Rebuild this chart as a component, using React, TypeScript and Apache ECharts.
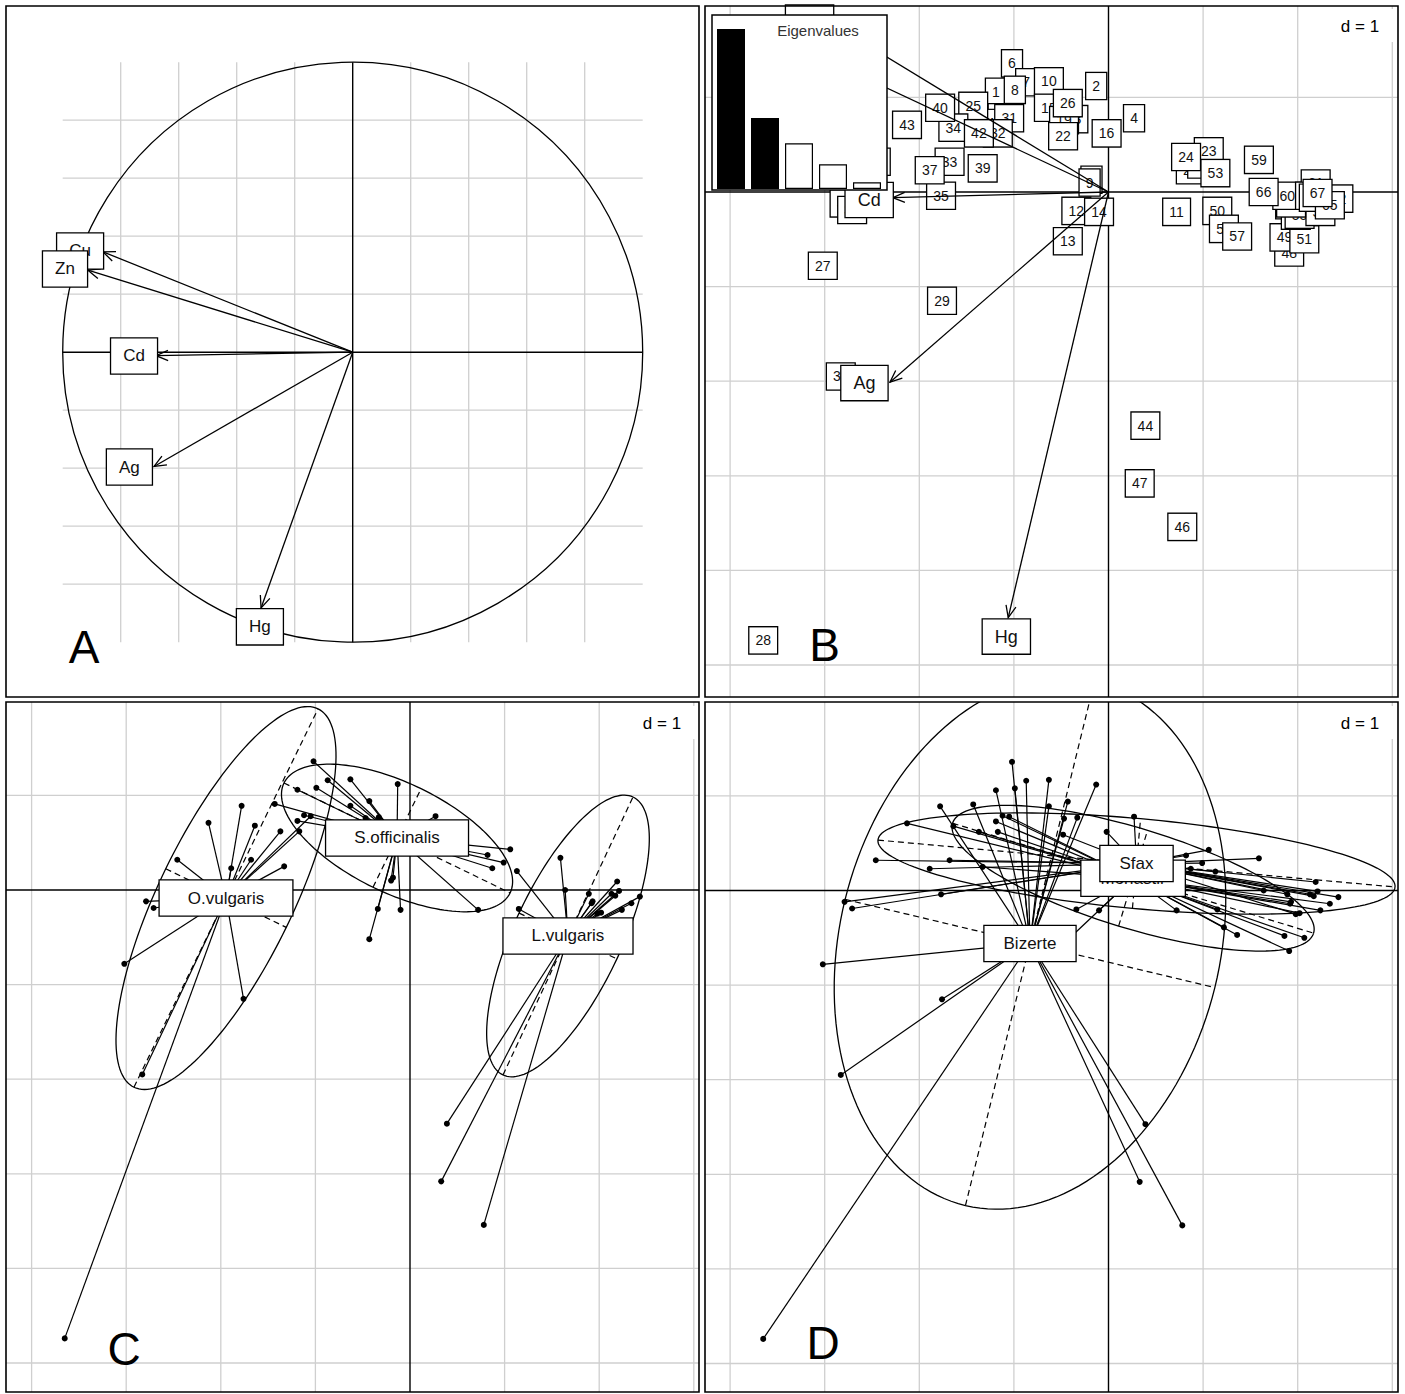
import React, { useEffect, useRef } from "react";
import * as echarts from "echarts";

const FONT = "'Liberation Sans', Arial, Helvetica, sans-serif";

// ---------------- data ----------------
const variableNames = ["Cu", "Zn", "Cd", "Ag", "Hg"];
// Panel A (correlation circle): arrow tips and label centres
const corArrowX = [-0.861, -0.913, -0.678, -0.685, -0.316];
const corArrowY = [0.346, 0.283, -0.012, -0.394, -0.882];
const corLabelX = [-0.94, -0.992, -0.754, -0.77, -0.32];
const corLabelY = [0.349, 0.287, -0.013, -0.396, -0.947];
const circleRadius = 1;
const circleTicks = [-0.8, -0.6, -0.4, -0.2, 0.2, 0.4, 0.6, 0.8];

// Panel B: variable arrows and labels
const varArrowX = [-2.89, -3.07, -2.28, -2.31, -1.06];
const varArrowY = [1.76, 1.44, -0.06, -2.01, -4.5];
const varLabelX = [-3.16, -3.36, -2.53, -2.58, -1.08];
const varLabelY = [1.79, 1.47, -0.085, -2.02, -4.7];
const eigenRanks = ["1", "2", "3", "4", "5"];
const eigenvalues = [2.59, 1.15, 0.74, 0.4, 0.11];
const eigenKept = 2;

const gridTicksX = [-4, -3, -2, -1, 1, 2, 3];
const gridTicksY = [1, -1, -2, -3, -4, -5];

// Samples (row scores)
const sampleIds = [
  "1", "2", "3", "4", "5", "6", "7", "8", "9", "10", "11", "12", "13", "14", "15", "16", "17", "18", "19", "20",
  "21", "22", "23", "24", "25", "26", "27", "28", "29", "30", "31", "32", "33", "34", "35", "36", "37", "38", "39", "40",
  "41", "42", "43", "44", "45", "46", "47", "48", "49", "50", "51", "52", "53", "54", "55", "56", "57", "58", "59", "60",
  "61", "62", "63", "64", "65", "66", "67",
];
const sampleX = [
  -1.19, -0.13, -0.33, 0.27, -0.18, -1.02, -0.87, -0.99, -0.2, -0.63, 0.72, -0.34, -0.43, -0.1, -0.63, -0.02, -1.12,
  -1.19, -0.47, 0.87, 0.99, -0.48, 1.06, 0.82, -1.43, -0.43,
  -3.02, -3.65, -1.76, -2.83, -1.05, -1.17, -1.68, -1.64, -1.77, -2.79, -1.89, -2.71, -1.33, -1.78, -2.46, -1.37, -2.13,
  0.39, 1.92, 0.78, 0.33, 1.91, 1.86, 1.15, 2.07, 1.22, 1.13, 1.98, 2.02, 2.24, 1.36, 1.93, 1.59, 1.89, 2.19, 2.43, 2.13,
  2.17, 2.34, 1.64, 2.21,
];
const sampleY = [
  1.06, 1.12, 0.77, 0.78, 0.13, 1.36, 1.16, 1.08, 0.1, 1.17, -0.21, -0.2, -0.52, -0.21, 0.89, 0.62, 0.79, 0.73, 0.76,
  0.23, 0.29, 0.59, 0.43, 0.37, 0.91, 0.94,
  -0.78, -4.74, -1.15, -1.95, 0.78, 0.62, 0.32, 0.68, -0.04, -0.12, 0.23, -0.19, 0.25, 0.89, 0.32, 0.62, 0.71,
  -2.47, -0.14, -3.54, -3.08, -0.64, -0.48, -0.2, -0.5, -0.39, 0.2, -0.25, -0.24, -0.21, -0.47, -0.12, 0.34, -0.04, 0.09,
  -0.07, -0.04, -0.06, -0.14, 0.0, -0.01,
];
const sampleSpecies = ("SSSSSSSSSSSSSSSSSSSSSSSSSS" + "OOOOOOOOOOOOOOOOO" + "LLLLLLLLLLLLLLLLLLLLLLLL").split("");
const sampleSite = ("BBBSMBBBMBMMMMBSMMBSSSSSBB" + "BBBBMMSMSSSSMBSMM" + "BMBBMMMMMSSMMMMSSSSSSMSS").split("");

// Panel C: species classes
const speciesCodes = ["O", "S", "L"];
const speciesNames = ["O.vulgaris", "S.officinalis", "L.vulgaris"];
const speciesCenterX = [-1.945, -0.137, 1.67];
const speciesCenterY = [-0.085, 0.55, -0.486];
const speciesAxisA = [[0.973, 2.0], [1.195, -0.581], [0.687, 1.469]];
const speciesAxisB = [[0.637, -0.31], [0.254, 0.521], [0.517, -0.242]];

// Panel D: site classes
const siteCodes = ["B", "M", "S"];
const siteNames = ["Bizerte", "Monastir", "Sfax"];
const siteCenterX = [-0.83, 0.26, 0.296];
const siteCenterY = [-0.56, 0.13, 0.285];
const siteAxisA = [[0.682, 2.77], [1.908, -0.581], [2.733, -0.248]];
const siteAxisB = [[1.954, -0.466], [0.153, 0.506], [0.043, 0.474]];

// ---------------- layout ----------------
const UNIT = 94.6;
const FRAMES: Record<string, number[]> = {
  A: [6, 6, 699, 697],
  B: [705, 6, 1398, 697],
  C: [6, 702, 699, 1392],
  D: [705, 702, 1398, 1392],
};
const ORIGINS: Record<string, number[]> = {
  B: [1108.5, 192],
  C: [410, 890],
  D: [1108.5, 890.5],
};
const CIRCLE = { cx: 352.7, cy: 352.2, r: 290 };

function gridItem(params: any, api: any) {
  const cs = params.coordSys;
  const v = api.value(0);
  const o = api.value(1);
  const isAxis = api.value(2) === 1;
  let shape;
  if (o === 0) {
    const p = api.coord([v, 0]);
    shape = { x1: p[0], y1: cs.y, x2: p[0], y2: cs.y + cs.height };
  } else {
    const p = api.coord([0, v]);
    shape = { x1: cs.x, y1: p[1], x2: cs.x + cs.width, y2: p[1] };
  }
  return {
    type: "line",
    shape,
    style: { stroke: isAxis ? "#000" : "#cfcfcf", lineWidth: isAxis ? 1.4 : 1.3 },
  };
}

function gridSeries(gi: number, tx: number[], ty: number[]) {
  return {
    type: "custom",
    xAxisIndex: gi,
    yAxisIndex: gi,
    z: 1,
    silent: true,
    renderItem: gridItem,
    data: [...tx.map((v) => [v, 0, 0]), ...ty.map((v) => [v, 1, 0]), [0, 0, 1], [0, 1, 1]],
  };
}

function arrowItem(params: any, api: any) {
  const p0 = api.coord([api.value(0), api.value(1)]);
  const p1 = api.coord([api.value(2), api.value(3)]);
  const ang = Math.atan2(p1[1] - p0[1], p1[0] - p0[0]);
  const L = 13;
  const da = 0.4;
  const h1 = [p1[0] - L * Math.cos(ang - da), p1[1] - L * Math.sin(ang - da)];
  const h2 = [p1[0] - L * Math.cos(ang + da), p1[1] - L * Math.sin(ang + da)];
  return {
    type: "group",
    children: [
      { type: "line", shape: { x1: p0[0], y1: p0[1], x2: p1[0], y2: p1[1] }, style: { stroke: "#000", lineWidth: 1.3 } },
      { type: "polyline", shape: { points: [h1, p1, h2] }, style: { stroke: "#000", fill: "none", lineWidth: 1.3 } },
    ],
  };
}

function ellipseItem(params: any, api: any) {
  const cx = api.value(0), cy = api.value(1);
  const ax = api.value(2), ay = api.value(3);
  const bx = api.value(4), by = api.value(5);
  const pts: number[][] = [];
  const n = 160;
  for (let i = 0; i <= n; i++) {
    const t = (i / n) * Math.PI * 2;
    pts.push(api.coord([cx + Math.cos(t) * ax + Math.sin(t) * bx, cy + Math.cos(t) * ay + Math.sin(t) * by]));
  }
  const a0 = api.coord([cx - ax, cy - ay]);
  const a1 = api.coord([cx + ax, cy + ay]);
  const b0 = api.coord([cx - bx, cy - by]);
  const b1 = api.coord([cx + bx, cy + by]);
  const dash = { stroke: "#000", lineWidth: 1.2, lineDash: [6, 4] };
  return {
    type: "group",
    children: [
      { type: "polyline", shape: { points: pts }, style: { fill: "none", stroke: "#000", lineWidth: 1.3 } },
      { type: "line", shape: { x1: a0[0], y1: a0[1], x2: a1[0], y2: a1[1] }, style: dash },
      { type: "line", shape: { x1: b0[0], y1: b0[1], x2: b1[0], y2: b1[1] }, style: dash },
    ],
  };
}

function segmentItem(params: any, api: any) {
  const p0 = api.coord([api.value(0), api.value(1)]);
  const p1 = api.coord([api.value(2), api.value(3)]);
  return { type: "line", shape: { x1: p0[0], y1: p0[1], x2: p1[0], y2: p1[1] }, style: { stroke: "#000", lineWidth: 1.2 } };
}

function labelSeries(gi: number, names: string[], xs: number[], ys: number[], fontSize: number, padding: number[], z: number) {
  return {
    type: "scatter",
    xAxisIndex: gi,
    yAxisIndex: gi,
    z,
    silent: true,
    symbolSize: 0,
    clip: false,
    itemStyle: { color: "transparent", opacity: 1 },
    data: names.map((n, i) => ({ name: n, value: [xs[i], ys[i]] })),
    label: {
      show: true,
      position: "inside",
      formatter: "{b}",
      color: "#111",
      opacity: 1,
      fontFamily: FONT,
      fontSize,
      backgroundColor: "#fff",
      borderColor: "#000",
      borderWidth: 1.3,
      padding,
    },
  };
}

function classPanel(gi: number, codes: string[], names: string[], cxs: number[], cys: number[], A: number[][], B: number[][], membership: string[], pad: number[]) {
  const ellipses = codes.map((_, k) => [cxs[k], cys[k], A[k][0], A[k][1], B[k][0], B[k][1]]);
  const stars = sampleX.map((x, i) => {
    const k = codes.indexOf(membership[i]);
    return [cxs[k], cys[k], x, sampleY[i]];
  });
  return [
    { type: "custom", xAxisIndex: gi, yAxisIndex: gi, z: 2, silent: true, clip: true, renderItem: ellipseItem, data: ellipses },
    { type: "custom", xAxisIndex: gi, yAxisIndex: gi, z: 3, silent: true, clip: true, renderItem: segmentItem, data: stars },
    {
      type: "scatter",
      xAxisIndex: gi,
      yAxisIndex: gi,
      z: 4,
      silent: true,
      symbol: "circle",
      symbolSize: 6,
      itemStyle: { color: "#000", opacity: 1 },
      data: sampleX.map((x, i) => [x, sampleY[i]]),
    },
    labelSeries(gi, names, cxs, cys, 17, pad, 5),
  ];
}

function buildOption() {
  const grids: any[] = [];
  const xAxes: any[] = [];
  const yAxes: any[] = [];
  // grid 0 : correlation circle square [-1, 1]
  grids.push({ left: CIRCLE.cx - CIRCLE.r, top: CIRCLE.cy - CIRCLE.r, width: 2 * CIRCLE.r, height: 2 * CIRCLE.r, outerBoundsMode: "none" });
  xAxes.push({ gridIndex: 0, type: "value", min: -1, max: 1, show: false, splitLine: { show: false } });
  yAxes.push({ gridIndex: 0, type: "value", min: -1, max: 1, show: false, splitLine: { show: false } });
  // grids 1..3 : panels B, C, D
  ["B", "C", "D"].forEach((k, i) => {
    const [x0, y0, x1, y1] = FRAMES[k];
    const [ox, oy] = ORIGINS[k];
    grids.push({ left: x0, top: y0, width: x1 - x0, height: y1 - y0, outerBoundsMode: "none" });
    xAxes.push({ gridIndex: i + 1, type: "value", min: (x0 - ox) / UNIT, max: (x1 - ox) / UNIT, show: false, splitLine: { show: false } });
    yAxes.push({ gridIndex: i + 1, type: "value", min: (oy - y1) / UNIT, max: (oy - y0) / UNIT, show: false, splitLine: { show: false } });
  });
  // grid 4 : eigenvalue inset
  grids.push({ left: 714, top: 29, width: 170, height: 160, outerBoundsMode: "none" });
  xAxes.push({ gridIndex: 4, type: "category", data: eigenRanks, show: false });
  yAxes.push({ gridIndex: 4, type: "value", min: 0, max: "dataMax", show: false, splitLine: { show: false } });

  const series: any[] = [];

  // ---- Panel A
  series.push(gridSeries(0, circleTicks, circleTicks));
  series.push({
    type: "custom",
    xAxisIndex: 0,
    yAxisIndex: 0,
    z: 2,
    silent: true,
    renderItem: (params: any, api: any) => {
      const c = api.coord([api.value(0), api.value(1)]);
      const r = api.size([api.value(2), 0])[0];
      return { type: "circle", shape: { cx: c[0], cy: c[1], r }, style: { fill: "none", stroke: "#000", lineWidth: 1.3 } };
    },
    data: [[0, 0, circleRadius]],
  });
  series.push({
    type: "custom",
    xAxisIndex: 0,
    yAxisIndex: 0,
    z: 3,
    silent: true,
    renderItem: arrowItem,
    data: corArrowX.map((x, i) => [0, 0, x, corArrowY[i]]),
  });
  series.push(labelSeries(0, variableNames, corLabelX, corLabelY, 17, [9, 12], 4));

  // ---- Panel B
  series.push(gridSeries(1, gridTicksX, gridTicksY));
  series.push(labelSeries(1, sampleIds, sampleX, sampleY, 14, [6, 6], 3));
  series.push({
    type: "custom",
    xAxisIndex: 1,
    yAxisIndex: 1,
    z: 4,
    silent: true,
    clip: true,
    renderItem: arrowItem,
    data: varArrowX.map((x, i) => [0, 0, x, varArrowY[i]]),
  });
  series.push(labelSeries(1, variableNames, varLabelX, varLabelY, 18, [8, 12], 5));
  series.push({
    type: "bar",
    xAxisIndex: 4,
    yAxisIndex: 4,
    z: 60,
    silent: true,
    barWidth: 28,
    data: eigenvalues.map((v, i) => ({
      value: v,
      itemStyle: { color: i < eigenKept ? "#000" : "#fff", borderColor: "#000", borderWidth: 1.2, opacity: 1 },
    })),
  });

  // ---- Panel C
  series.push(gridSeries(2, gridTicksX, gridTicksY));
  series.push(...classPanel(2, speciesCodes, speciesNames, speciesCenterX, speciesCenterY, speciesAxisA, speciesAxisB, sampleSpecies, [9, 28]));

  // ---- Panel D
  series.push(gridSeries(3, gridTicksX, gridTicksY));
  series.push(...classPanel(3, siteCodes, siteNames, siteCenterX, siteCenterY, siteAxisA, siteAxisB, sampleSite, [9, 19]));

  const txt = (text: string, x: number, y: number, size: number, z: number, color = "#000") => ({
    type: "text",
    x,
    y,
    z,
    silent: true,
    style: {
      text,
      fill: color,
      fontSize: size,
      fontFamily: FONT,
      align: "center",
      verticalAlign: "middle",
      textAlign: "center",
      textVerticalAlign: "middle",
    },
  });

  const graphics: any[] = [];
  Object.values(FRAMES).forEach((f) => {
    graphics.push({
      type: "rect",
      z: 100,
      silent: true,
      shape: { x: f[0], y: f[1], width: f[2] - f[0], height: f[3] - f[1] },
      style: { fill: "none", stroke: "#000", lineWidth: 1.6 },
    });
  });
  // eigenvalue inset
  graphics.push({
    type: "rect",
    z: 50,
    silent: true,
    shape: { x: 712, y: 15, width: 175, height: 175 },
    style: { fill: "#fff", stroke: "#000", lineWidth: 1.5 },
  });
  graphics.push(txt("Eigenvalues", 818, 30, 15, 61, "#333"));
  // d = 1 boxes
  [[1360, 26], [662, 723], [1360, 723]].forEach(([x, y]) => {
    graphics.push({
      type: "rect",
      z: 70,
      silent: true,
      shape: { x: x - 28, y: y - 17, width: 64, height: 33 },
      style: { fill: "#fff", stroke: "none" },
    });
    graphics.push(txt("d = 1", x, y, 17, 71));
  });
  // panel letters
  graphics.push(txt("A", 84, 647, 46, 80));
  graphics.push(txt("B", 824.5, 645, 46, 80));
  graphics.push(txt("C", 124, 1349, 46, 80));
  graphics.push(txt("D", 823, 1343, 46, 80));

  return {
    animation: false,
    backgroundColor: "#fff",
    grid: grids,
    xAxis: xAxes,
    yAxis: yAxes,
    series,
    graphic: { elements: graphics },
  };
}

export default function App() {
  const ref = useRef<HTMLDivElement>(null);
  useEffect(() => {
    if (!ref.current) return;
    const chart = echarts.init(ref.current, null, { renderer: "svg" });
    chart.setOption(buildOption() as any);
    return () => {
      chart.dispose();
    };
  }, []);
  return (
    <div
      ref={ref}
      style={{ position: "absolute", left: 0, top: 0, width: 1405, height: 1394, background: "#fff" }}
    />
  );
}
